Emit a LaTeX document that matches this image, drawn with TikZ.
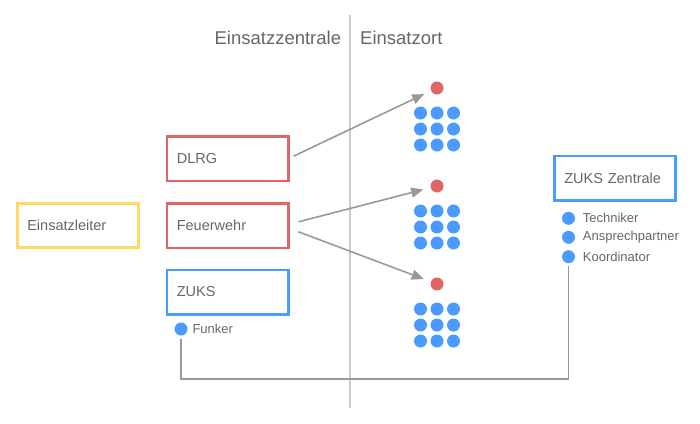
\documentclass[tikz,border=0pt]{standalone}
\usepackage{fontspec}
\setmainfont{Liberation Sans}
\usetikzlibrary{arrows.meta,calc}
\definecolor{txt}{HTML}{666666}
\definecolor{redc}{HTML}{E06666}
\definecolor{bluec}{HTML}{4A9BFF}
\definecolor{yelc}{HTML}{FFD966}
\definecolor{linec}{HTML}{999999}
\definecolor{sepc}{HTML}{CCCCCC}
\begin{document}
\begin{tikzpicture}[x=1pt,y=-1pt,
 box/.style={draw=#1, line width=2.6pt, rectangle, minimum width=121.4pt, minimum height=44.4pt, text width=101.4pt, inner xsep=10pt, align=left, text=txt, font=\fontsize{14.5}{17}\selectfont},
 dot/.style={circle, fill=#1, draw=none, minimum size=13pt, inner sep=0pt},
 lbl/.style={text=txt, font=\fontsize{13}{15}\selectfont, anchor=west, inner sep=0pt},
 head/.style={text=txt, font=\fontsize{18.5}{22}\selectfont, inner sep=0pt},
 conn/.style={draw=linec, line width=1.6pt},
 arr/.style={conn, -{Triangle[length=12pt,width=10pt]}}
]
\useasboundingbox (0,0) rectangle (700,423);
% separator
\coordinate (septop) at (350,15);
\coordinate (sepbot) at (350,408);
\draw[sepc, line width=1.8pt] (septop) -- (sepbot);
% headings
\node[head, anchor=base east] (hz) at (341.3,44) {Einsatzzentrale};
\node[head, anchor=base west] (ho) at (360,44) {Einsatzort};
% boxes
\node[box=yelc] (el) at (78,225.5) {Einsatzleiter};
\node[box=redc] (dlrg) at (227.5,158.7) {DLRG};
\node[box=redc] (fw) at (227.5,225.8) {Feuerwehr};
\node[box=bluec] (zuks) at (227.5,292) {ZUKS};
\node[box=bluec] (zz) at (615,178) {ZUKS Zentrale};
% Funker
\node[dot=bluec] (fd) at (181,329) {};
\node[lbl] (fl) at (192.3,329) {Funker};
% ZUKS Zentrale members
\node[dot=bluec] (td) at (568.5,218.3) {};
\node[lbl] (tl) at (582.7,218.3) {Techniker};
\node[dot=bluec] (ad) at (568.5,237.3) {};
\node[lbl] (al) at (582.7,237.3) {Ansprechpartner};
\node[dot=bluec] (kd) at (568.5,256.7) {};
\node[lbl] (kl) at (582.7,256.7) {Koordinator};
% groups at Einsatzort
\foreach \g/\y in {1/88,2/186,3/284} {
  \node[dot=redc] (r\g) at (437,\y) {};
  \foreach \i/\dy in {1/25,2/41,3/57}
    \foreach \j/\x in {1/420.5,2/437,3/453.5}
      \node[dot=bluec] (b\g\i\j) at (\x,\y+\dy) {};
}
% arrows
\draw[arr, shorten >=7.5pt] ($(dlrg.east)+(4,-2.5)$) -- (r1);
\draw[arr, shorten >=7.5pt] ($(fw.east)+(9,-4)$) -- (r2);
\draw[arr, shorten >=7.5pt] ($(fw.east)+(9,6)$) -- (r3);
% connector Funker -> Koordinator
\coordinate (cb) at (181,379);
\draw[conn, shorten <=3pt, shorten >=3pt] (fd.south) -- (cb) -| (kd.south);
\end{tikzpicture}
\end{document}
